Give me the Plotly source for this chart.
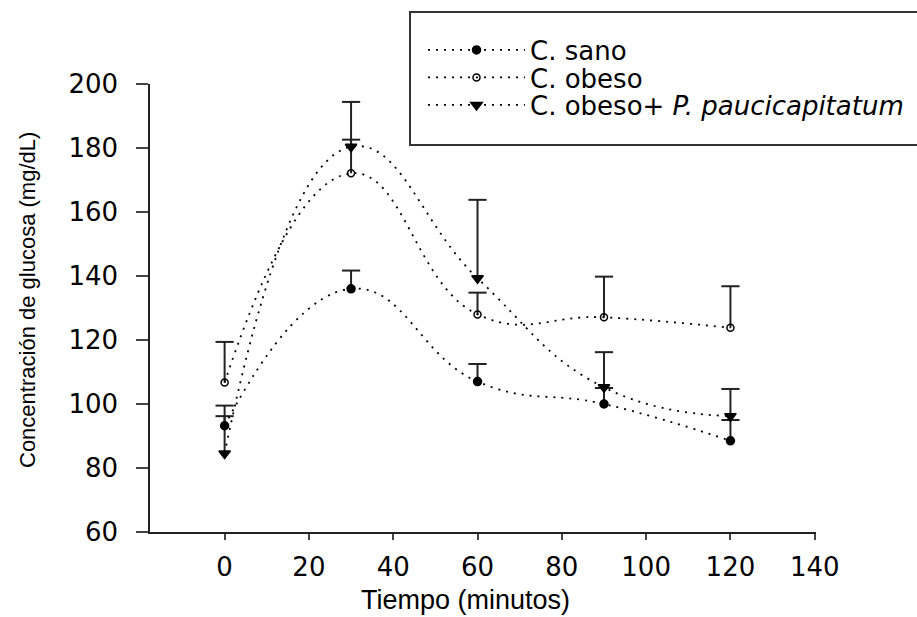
import plotly.graph_objects as go

# ---- data ----
time_min = [0, 30, 60, 90, 120]

sano = [93.2, 136.0, 107.0, 100.0, 88.5]
sano_err = [3.0, 5.7, 5.5, 5.0, 6.5]

obeso = [106.7, 172.1, 128.0, 127.1, 123.8]
obeso_err = [12.7, 10.5, 6.8, 12.7, 13.0]

obeso_pp = [84.5, 180.4, 139.3, 105.2, 96.2]
obeso_pp_err = [15.0, 14.0, 24.5, 11.0, 8.5]

x_ticks = [0, 20, 40, 60, 80, 100, 120, 140]
y_ticks = [60, 80, 100, 120, 140, 160, 180, 200]

series = [
    ("C. sano", sano, sano_err, "circle", 8, "legend"),
    ("C. obeso", obeso, obeso_err, "circle-open", 7, "legend2"),
    ("C. obeso+ <i>P. paucicapitatum</i>", obeso_pp, obeso_pp_err, "triangle-down", 10, "legend3"),
]

fig = go.Figure()

# upper-only error bars: stems + top caps
for name, ys, errs, sym, sz, lg in series:
    sx, sy = [], []
    for x, y, e in zip(time_min, ys, errs):
        sx += [x, x, None]
        sy += [y, y + e, None]
    fig.add_trace(go.Scatter(x=sx, y=sy, mode="lines", showlegend=False,
                             line=dict(color="#222", width=2), hoverinfo="skip"))
    fig.add_trace(go.Scatter(x=time_min, y=[y + e for y, e in zip(ys, errs)],
                             mode="markers", showlegend=False, hoverinfo="skip",
                             marker=dict(symbol="line-ew", size=13,
                                         line=dict(color="#222", width=2))))

# data curves
for name, ys, errs, sym, sz, lg in series:
    fig.add_trace(go.Scatter(
        x=time_min, y=ys, mode="lines+markers", name=name, legend=lg,
        line=dict(color="black", width=1.8, dash="2px,6px", shape="spline", smoothing=1.3),
        marker=dict(symbol=sym, size=sz, color="black",
                    line=dict(color="black", width=1.5)),
    ))

L, R, T, B = 150, 101, 84, 85
W, H = 917, 617
pw, ph = W - L - R, H - T - B

def px_to_paper_x(px):
    return (px - L) / pw

def px_to_paper_y(py):
    return (H - B - py) / ph

legend_common = dict(xanchor="left", yanchor="middle", bgcolor="rgba(0,0,0,0)",
                     borderwidth=0, itemwidth=97,
                     font=dict(family="DejaVu Sans", size=26, color="black"))

fig.update_layout(
    width=W, height=H,
    margin=dict(l=L, r=R, t=T, b=B, autoexpand=False),
    paper_bgcolor="white", plot_bgcolor="white",
    font=dict(family="DejaVu Sans", color="black", size=26),
    xaxis=dict(range=[-17.7, 140.3], tickvals=x_ticks, ticks="outside", ticklen=6,
               tickwidth=1.5, showline=True, linecolor="#222", linewidth=1.5,
               showgrid=False, zeroline=False, ticklabelstandoff=5,
               tickfont=dict(family="DejaVu Sans", size=26, color="black")),
    yaxis=dict(range=[60, 200], tickvals=y_ticks, ticks="outside", ticklen=12,
               tickwidth=1.5, showline=True, linecolor="#222", linewidth=1.5,
               showgrid=False, zeroline=False, ticklabelstandoff=13,
               tickfont=dict(family="DejaVu Sans", size=26, color="black")),
    showlegend=True,
    legend=dict(x=px_to_paper_x(423), y=px_to_paper_y(50), **legend_common),
    legend2=dict(x=px_to_paper_x(423), y=px_to_paper_y(77.5), **legend_common),
    legend3=dict(x=px_to_paper_x(423), y=px_to_paper_y(105), **legend_common),
    shapes=[dict(type="rect", xref="paper", yref="paper",
                 x0=px_to_paper_x(410), x1=px_to_paper_x(930),
                 y0=px_to_paper_y(145), y1=px_to_paper_y(12),
                 line=dict(color="#333", width=2), fillcolor="rgba(0,0,0,0)")],
    annotations=[
        dict(text="Tiempo (minutos)", xref="paper", yref="paper",
             x=px_to_paper_x(465), y=px_to_paper_y(600), xanchor="center", yanchor="middle",
             showarrow=False, font=dict(family="Liberation Sans", size=27, color="black")),
        dict(text="Concentración de glucosa (mg/dL)", xref="paper", yref="paper",
             x=px_to_paper_x(27), y=px_to_paper_y(300), xanchor="center", yanchor="middle",
             textangle=-90, showarrow=False,
             font=dict(family="Liberation Sans", size=22, color="black")),
    ],
)

fig.write_html("out.html")
